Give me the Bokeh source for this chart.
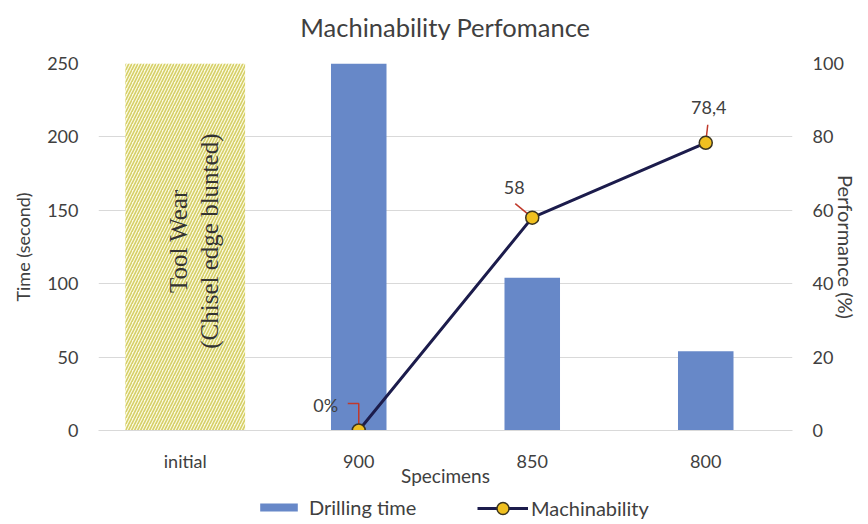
import math
from bokeh.plotting import figure
from bokeh.layouts import column
from bokeh.models import Range1d, LinearAxis, FixedTicker, Legend, LegendItem
from bokeh.embed import file_html
from bokeh.resources import INLINE
from bokeh.core.properties import value

# ---- data ----
title_text = "Machinability Perfomance"
categories = ["initial", "900", "850", "800"]
specimens = ["900", "850", "800"]
drilling_time = [250, 104, 54]
machinability = [0, 58, 78.4]
machinability_labels = ["0%", "58", "78,4"]
tool_wear_top = 253
tool_wear_text = ["Tool Wear", "(Chisel edge blunted)"]
time_ticks = [0, 50, 100, 150, 200, 250]
perf_ticks = [0, 20, 40, 60, 80, 100]

# ---- layout constants ----
W = 860
TOP_H, LEG_H = 40, 34
BL, BR, BT, BB = 98, 68, 23, 60
H = 450
FW, FH = W - BL - BR, H - BT - BB
FONT = "Lato"
TXT = "#404040"
BAR_COLOR = "#6788c8"
LINE_COLOR = "#1c1c4c"
MARK_FILL = "#f0c020"
MARK_LINE = "#3a3420"

pos = {c: i + 0.5 for i, c in enumerate(categories)}
xs = [pos[s] for s in specimens]
kx = len(categories) / FW          # data units per px (x)
kp = 100 / FH                       # data units per px (perf axis)


def strip(height):
    f = figure(width=W, height=height, x_range=Range1d(0, 1), y_range=Range1d(0, 1),
               output_backend="svg", toolbar_location=None, x_axis_type=None, y_axis_type=None,
               min_border_left=BL, min_border_right=BR, min_border_top=0, min_border_bottom=0)
    f.outline_line_color = None
    f.xgrid.visible = False
    f.ygrid.visible = False
    return f


# ---- title strip ----
tt = strip(TOP_H)
tt.text(x=[0.5], y=[1 - 26 / TOP_H], text=[title_text], text_align="center", text_baseline="middle",
        text_font=value(FONT), text_font_size="25.5px", text_color=TXT)

# ---- main chart ----
p = figure(width=W, height=H, x_range=Range1d(0, len(categories)), y_range=Range1d(0, 250),
           output_backend="svg", toolbar_location=None,
           min_border_left=BL, min_border_right=BR, min_border_top=BT, min_border_bottom=BB)
p.extra_y_ranges = {"perf": Range1d(0, 100)}
p.outline_line_color = None
p.background_fill_color = "white"

p.xgrid.visible = False
p.ygrid.grid_line_color = "#d9d9d9"
p.ygrid.ticker = FixedTicker(ticks=time_ticks)

ya = p.yaxis[0]
ya.ticker = FixedTicker(ticks=time_ticks)
ya.axis_label = "Time (second)"
ra = LinearAxis(y_range_name="perf", ticker=FixedTicker(ticks=perf_ticks), axis_label="Performance (%)")
p.add_layout(ra, "right")
for ax in (ya, ra):
    ax.axis_line_color = None
    ax.major_tick_line_color = None
    ax.minor_tick_line_color = None
    ax.major_tick_out = 0
    ax.major_tick_in = 0
    ax.minor_tick_out = 0
    ax.major_label_text_font = FONT
    ax.major_label_text_font_size = "18px"
    ax.major_label_text_color = TXT
    ax.major_label_standoff = 20
    ax.axis_label_text_font = FONT
    ax.axis_label_text_font_style = "normal"
    ax.axis_label_text_color = TXT
ya.axis_label_text_font_size = "18px"
ya.axis_label_standoff = 10
ra.axis_label_text_font_size = "20px"
ra.axis_label_standoff = -13

xa = p.xaxis[0]
xa.ticker = FixedTicker(ticks=[pos[c] for c in categories])
xa.major_label_overrides = {pos[c]: c for c in categories}
xa.axis_line_color = "#d9d9d9"
xa.major_tick_line_color = None
xa.minor_tick_line_color = None
xa.major_tick_out = 0
xa.major_tick_in = 0
xa.minor_tick_out = 0
xa.major_label_text_font = FONT
xa.major_label_text_font_size = "18px"
xa.major_label_text_color = TXT
xa.major_label_standoff = 19
xa.axis_label = "Specimens"
xa.axis_label_text_font = FONT
xa.axis_label_text_font_size = "19px"
xa.axis_label_text_font_style = "normal"
xa.axis_label_text_color = TXT
xa.axis_label_standoff = -11

# tool wear hatched block
p.vbar(x=[pos["initial"]], top=[tool_wear_top], width=0.69, bottom=0,
       fill_color="#fafae2", line_color=None,
       hatch_pattern="/", hatch_color="#d6cf66", hatch_scale=6, hatch_weight=1.6)
p.text(x=[pos["initial"]] * 2, y=[129, 129], text=tool_wear_text, angle=math.pi / 2,
       x_offset=[-7, 24], text_align="center", text_baseline="middle",
       text_font=value("Liberation Serif"), text_font_size="25px", text_color="#333333")

# bars
bars = p.vbar(x=xs, top=drilling_time, width=0.32, fill_color=BAR_COLOR, line_color=None)

# leader lines
lead_xs = [[xs[0], xs[0], xs[0] - 11 * kx],
           [xs[1], xs[1] - 17 * kx],
           [xs[2], xs[2] + 2 * kx]]
lead_ys = [[machinability[0], machinability[0] + 27 * kp, machinability[0] + 27 * kp],
           [machinability[1], machinability[1] + 14 * kp],
           [machinability[2], machinability[2] + 18 * kp]]
p.multi_line(xs=lead_xs, ys=lead_ys, y_range_name="perf", line_color="#c0392b", line_width=1.5)

# line + markers
ln = p.line(xs, machinability, y_range_name="perf", line_color=LINE_COLOR, line_width=3)
pts = p.scatter(xs, machinability, y_range_name="perf", size=13, fill_color=MARK_FILL,
                line_color=MARK_LINE, line_width=1.5)

p.text(x=xs, y=machinability, text=machinability_labels, y_range_name="perf",
       x_offset=[-33, -18, 3], y_offset=[-26, -30, -35],
       text_align="center", text_baseline="middle",
       text_font=value(FONT), text_font_size="18px", text_color=TXT)

# ---- legend strip ----
lg = strip(LEG_H)
lbars = lg.vbar(x=[-5], top=[-5], width=0.1, fill_color=BAR_COLOR, line_color=None)
lln = lg.line(x=[-5, -4], y=[-5, -5], line_color=LINE_COLOR, line_width=3)
lpts = lg.scatter(x=[-5], y=[-5], size=13, fill_color=MARK_FILL, line_color=MARK_LINE, line_width=1.5)
leg_common = dict(orientation="horizontal", label_text_font=FONT, label_text_font_size="20px",
                  label_text_color=TXT, border_line_color=None, background_fill_alpha=0,
                  padding=0, margin=0)
legend_a = Legend(items=[LegendItem(label="Drilling time", renderers=[lbars])],
                  location=(255 - BL, 5), glyph_width=47, glyph_height=10, label_standoff=7,
                  **leg_common)
legend_b = Legend(items=[LegendItem(label="Machinability", renderers=[lln, lpts])],
                  location=(477 - BL, 1), glyph_width=51, glyph_height=30, label_standoff=3,
                  **leg_common)
lg.add_layout(legend_a, "center")
lg.add_layout(legend_b, "center")

layout = column(tt, p, lg, spacing=0)
open("out.html", "w").write(file_html(layout, INLINE))
